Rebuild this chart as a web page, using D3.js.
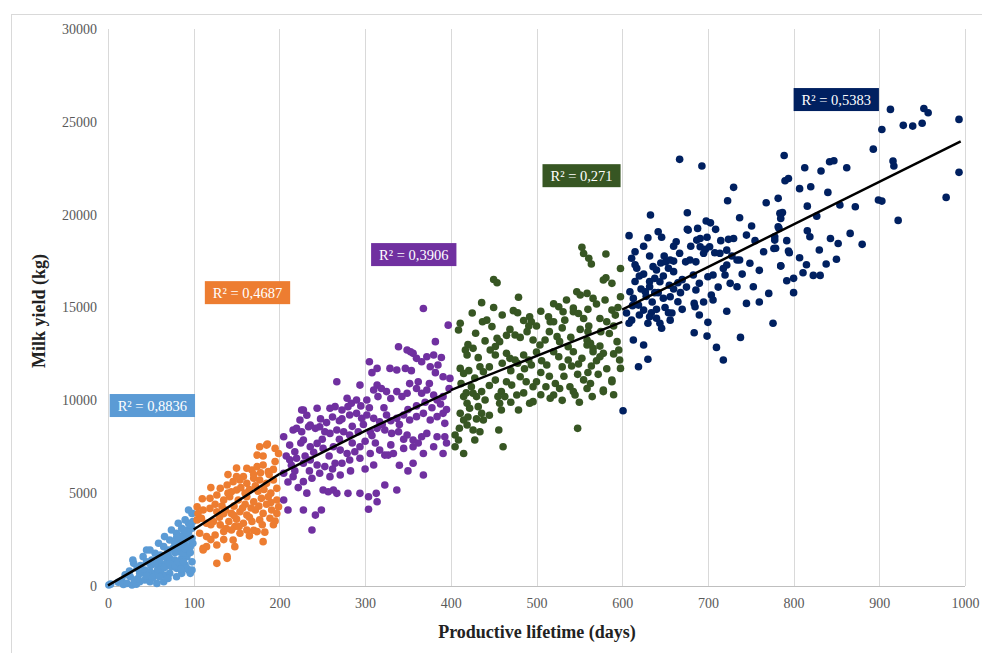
<!DOCTYPE html>
<html>
<head>
<meta charset="utf-8">
<script src="https://cdn.jsdelivr.net/npm/d3@7"></script>
<style>
  body { margin: 0; background: #fff; }
  svg { display: block; font-family: "Liberation Serif", "Times New Roman", serif; }
</style>
</head>
<body>
<svg id="chart"></svg>
<script>
// Productive lifetime (days) vs milk yield (kg), one series per lifetime class
const xTicks = [0, 100, 200, 300, 400, 500, 600, 700, 800, 900, 1000];
const yTicks = [0, 5000, 10000, 15000, 20000, 25000, 30000];

const bluePoints = [
  [1,50],[3,100],[12,200],[16,300],[18,80],[22,140],[28,50],[33,100],[26,500],[31,320],[37,230],[43,320],[49,230],[57,140],[65,230],
  [35,400],[40,700],[29,1400],[30,1220],[34,950],[37,680],[43,860],[49,770],[55,680],[61,770],[66,590],[72,680],
  [84,1040],[90,1130],[94,860],[86,680],[96,680],[92,950],[98,860],
  [41,1580],[45,1310],[51,1400],[57,1220],[63,1130],[68,1220],[74,1040],[80,950],
  [45,1940],[49,1940],[55,1760],[61,1670],[66,1580],[72,1490],[78,1400],[86,1490],[92,1580],
  [59,2300],[65,2120],[70,1940],[76,2030],[82,1850],[88,1760],[94,1940],
  [66,2660],[72,2480],[78,2300],[84,2390],[90,2210],[96,2120],[99,2300],
  [74,3020],[80,2840],[86,2660],[92,2750],[98,2570],
  [82,3380],[86,3110],[92,3020],[98,3110],
  [90,3560],[94,3380],[99,3470],[94,4090],[98,3910],
  [50,1100],[58,900],[66,1000],[72,1200],[78,1100],[82,1300],[88,1300],[70,1700],[78,1800],[84,2100],[90,2000],
  [96,2500],[88,2500],[80,2600],[94,2900],[96,3300],[88,3000],[60,1400],[55,1200],[25,800],[20,600],[45,550],
  [52,450],[60,500],[70,400],[80,500],[85,900],[98,1300],[96,1800],[38,1100]
];

const orangePoints = [
  [186,7650],[174,7050],[181,7000],[195,7410],[199,7140],[177,7500],[185,7590],[195,6700],
  [162,6340],[168,6250],[174,6430],[181,6520],[187,6160],[193,6280],[140,6000],[150,6350],[158,5900],
  [146,5620],[154,5710],[162,5530],[170,5800],[177,5710],[185,5530],[193,5710],[197,5260],
  [131,5260],[139,5440],[144,5080],[150,5170],[120,5300],[165,5200],[175,5100],[190,5000],
  [119,4720],[127,4900],[135,4630],[142,4810],[152,4630],[162,4810],[170,4540],[179,4720],[187,4810],[197,4630],[110,4700],
  [104,4270],[111,4090],[119,4180],[127,4000],[137,4090],[144,3910],[154,4000],[162,3820],[172,4090],[181,3910],[191,4090],[199,4270],
  [160,4400],[185,4400],[105,3900],[197,3900],
  [104,3560],[109,3650],[115,3380],[123,3470],[131,3290],[141,3470],[148,3200],[158,3380],[168,3470],[177,3560],[189,3650],
  [130,3700],[150,3600],[193,3300],
  [107,2840],[115,2660],[125,2750],[135,2930],[144,3020],[154,2840],[162,3020],[174,2930],[170,3000],[183,2900],
  [146,2480],[148,2120],[181,2390],[111,2030],[115,2120],[127,2210],[139,1580],[127,1220],[139,1490],[111,1940],
  [125,4400],[133,4300],[147,4300],[157,4200],[167,4200],[176,4300],[190,4500],[140,5000],[155,5300],[160,5000],
  [172,5400],[182,5200],[188,6000],[178,6100],[170,6000],[150,5900],[135,3900],[147,3800],[165,3700],[180,3300],
  [195,3500],[120,3300],[138,3100],[153,3200],[165,2700],[135,2500],[120,2500]
];

const purplePoints = [
  [368,14950],[397,14050],[382,13160],
  [339,12890],[349,12710],[356,12530],[360,12260],[366,12080],[372,12350],[380,12440],[389,12310],[385,11900],[376,11810],[382,11490],[391,11270],[353,12620],
  [305,12080],[314,11720],[308,11490],[329,11720],[337,11630],[347,11720],[354,11600],
  [267,11000],[294,10820],[314,10820],[310,10560],[319,10640],[325,10470],[315,10200],[337,10470],[343,10200],[349,10380],
  [360,10640],[366,10380],[372,10560],[380,10290],[384,10020],[391,10200],[398,10640],[399,11180],
  [279,10110],[284,9840],[290,10020],[302,10020],
  [259,9570],[265,9660],[273,9480],[280,9660],[282,9210],[228,9480],[244,9570],[226,9480],
  [290,9300],[296,9030],[302,9210],[310,9030],[317,8850],[325,9210],
  [337,9030],[345,9210],[352,8940],[360,9120],[368,9300],[376,8940],[384,9120],[391,9300],[393,8760],
  [216,8400],[224,8940],[236,8670],
  [220,8490],[226,8310],[234,8580],[242,8490],[247,8580],[253,8310],
  [259,8220],[267,8400],[275,8310],[282,8130],[292,8310],
  [306,8310],[314,8490],[323,8400],[331,8220],[339,8310],[349,8130],[356,7860],[366,8040],[372,8220],[384,8040],[393,8040],
  [205,8040],[212,7590],[218,7230],[208,7000],
  [228,7860],[236,7500],[244,7680],[251,7410],
  [263,7500],[271,7320],[279,7140],[288,7230],
  [294,7500],[306,7140],[317,7320],[327,7050],
  [345,7410],[356,7500],[368,7140],[391,7140],
  [214,6500],[220,6880],[228,6610],[236,6790],[244,6520],[253,6430],[265,6610],[273,6610],
  [282,6790],[294,6880],[310,6520],[323,7050],[333,7140],[356,6610],[368,5980],
  [205,6070],[216,5890],[228,5620],[238,5800],[247,6070],[259,5890],[271,5980],[210,5600],[222,5300],
  [232,5000],[251,5170],[257,5080],[263,5170],[267,4990],
  [280,4990],[294,4990],[304,4810],[313,4990],[323,5440],[337,5170],
  [205,4630],[210,4090],[228,4090],[242,3820],[249,4090],[304,4130],[238,3020],[314,4540],
  [232,9200],[248,9000],[255,8800],[262,9100],[270,8900],[285,8600],[298,8700],[308,8100],[320,8700],[330,8900],
  [340,8700],[350,9500],[360,9700],[370,9900],[378,9600],[388,9800],[395,9500],[375,10900],[362,11000],[352,10900],
  [330,10100],[322,9600],[305,9600],[295,9700],[273,9000],[250,7900],[240,7200],[258,7000],[270,7900],[285,7700],
  [300,7800],[312,7700],[330,7600],[345,7900],[362,7700],[380,7500],[395,7700],[230,7000],[225,7700],[212,6800],
  [218,6200],[235,6200],[262,6300],[283,6200],[300,6300],[340,6500],[350,6200]
];

const greenPoints = [
  [553,18240],[555,17910],[561,17650],[564,17340],[581,17880],[581,16600],
  [450,16510],[454,16330],[436,15260],[479,15550],
  [578,16480],[588,16300],[598,17100],[598,15580],
  [547,15850],[551,15670],[559,15760],[566,15490],[543,14970],
  [473,14830],[478,14720],[437,14230],[442,14320],[411,14150],[409,13790],
  [492,14500],[494,14230],[491,14000],
  [514,14500],[516,14230],[520,14230],
  [526,15040],[531,14770],[533,14320],
  [543,14770],[549,14680],[555,14410],
  [570,15190],[580,15400],[588,14860],[592,14590],[574,14410],[582,14230],[551,13820],[561,14000],
  [429,13610],[448,13970],[454,13340],[457,13160],[469,13820],[475,13520],[481,13390],[489,13700],[496,13250],
  [504,12980],[510,13250],[524,13430],[527,13160],[537,12890],[543,12620],[559,13250],[563,13070],[566,12800],
  [574,12920],[578,12530],[594,13160],[596,12710],[559,12980],[566,12620],[574,12350],
  [417,12710],[419,12440],[426,12800],[446,12710],[452,12440],[465,12530],[469,12260],[475,12170],[485,12440],
  [491,12170],[494,11900],[506,12130],[512,11900],[520,12620],[526,12350],[537,12170],[541,11850],[549,11960],
  [553,12260],[564,11850],[570,12130],[597,12170],[598,11720],
  [411,11720],[415,11450],[421,11600],[434,11810],[438,11540],[452,11090],[465,11000],[471,10820],[481,11270],
  [488,11000],[496,10730],[500,11000],[511,10730],[522,10910],[527,10640],[539,10730],[543,10470],[559,10640],
  [563,10910],[578,10470],[588,11090],[578,10560],[588,11000],
  [424,10730],[426,10380],[430,10200],[436,10470],[440,10020],[459,10470],[463,10200],[477,10290],[492,9840],
  [496,9930],[520,10290],[545,10290],[516,10110],
  [415,10200],[419,9840],[422,9570],[432,9660],[436,9300],[438,8940],[457,9840],[459,9480],[479,9480],
  [411,9300],[415,8940],[419,8670],[426,8400],[434,8310],[405,8130],[409,7860],[428,7860],[456,8400],[548,8490],
  [461,7500],[415,7140],[405,7500],
  [420,13000],[432,12300],[440,13200],[460,12000],[470,11600],[478,12000],[486,11700],[500,12600],[505,11500],
  [515,11300],[530,11800],[532,11300],[548,11400],[555,11100],[560,11500],[572,11400],[582,11700],[590,12500],
  [585,13600],[575,13700],[560,13700],[540,13400],[530,13900],[515,13700],[500,14000],[485,14300],[465,13500],
  [445,11800],[428,11200],[412,10900],[418,10400],[445,10800],[455,10200],[470,9900],[485,10400],[505,10300],
  [530,10000],[550,9900],[565,10200],[590,10300],[420,9100],[430,9000],[445,9200],[410,8500],[452,12900],
  [590,14000],[595,15000],[560,14900],[535,15400],[520,15200],[505,14800],[460,14600],[450,15000],[425,14700]
];

const navyPoints = [
  [913,25670],[952,25720],[957,25490],[993,25130],[903,24590],[928,24810],[939,24770],[950,24920],[893,23530],
  [916,22890],[917,22620],[993,22280],[978,20930],[899,20790],[903,20730],[922,19690],
  [789,23190],[813,22530],[832,22350],[842,22850],[847,22900],[862,22530],[790,21830],[794,21950],[807,21400],
  [782,20880],[816,20460],[785,20030],[787,20120],[827,19920],[854,20520],[872,20430],[782,19350],[778,18810],
  [816,19130],[819,18810],[843,18720],[852,18450],[866,18990],[792,18600],[779,18190],[795,17950],[807,17680],
  [785,17250],[838,17340],[811,16870],[823,16730],[831,16730],[792,16440],[800,16570],
  [667,22980],[693,22620],[730,21470],[723,20750],[768,20640],[633,19980],[676,20100],[698,19660],[703,19560],
  [709,19210],[737,19830],[751,19390],[784,20070],[785,19800],[783,19260],[777,18180],
  [608,18870],[630,18760],[642,19080],[646,18780],[663,18540],[676,19210],[688,19260],[691,18720],[699,18780],
  [724,18670],[730,18720],[778,18630],[794,18040],[677,19170],[687,18630],
  [611,17650],[632,17770],[649,17770],[651,17460],[656,17560],[667,17920],[674,17460],[679,17560],[686,17460],
  [691,18270],[697,18130],[708,17950],[722,18090],[728,17770],[734,17560],[749,17380],[785,17230],
  [737,17560],[702,18270],[714,17920],[722,17290],[695,17920],[660,17500],[645,17400],
  [617,17110],[636,17200],[640,17020],[654,17110],[660,16930],[683,16750],[700,16660],[706,16750],[720,16750],
  [726,16300],[734,16120],[753,16120],[771,15760],[625,16800],[648,16700],[670,16500],
  [638,16570],[632,16120],[627,15850],[644,16390],[609,15850],[613,15490],[665,16330],[656,15580],[665,15310],
  [686,15940],[684,15220],[685,15040],[704,15670],[706,15400],[745,15220],
  [615,16400],[622,16000],[628,15600],[635,15300],[642,15800],[660,16000],
  [619,15130],[625,14860],[634,14720],[640,14420],[644,14150],[646,13880],[654,14720],[656,14320],[611,14320],
  [608,14150],[630,14150],[613,13250],[625,12980],[630,12210],[619,11810],[620,14600],[650,15000],[605,14700],[612,15100],
  [684,13640],[699,13460],[710,12850],[718,12170],[738,13390],[776,14150],[601,9440],
  [615,17300],[620,16700],[632,16400],[638,15800],[648,15500],[655,16200],[668,15800],[675,16100],[690,16300],
  [695,15300],[712,16100],[718,17100],[740,16800],[760,17000],[765,18000],[755,18600],[745,18900],[715,18600],
  [680,18300],[660,18300],[625,18300],[615,18000],[640,14900],[632,14500],[658,14700],[670,14900],[690,14600],
  [700,14200],[722,14800],[760,15300],[800,15800],[815,17300],[830,18100],[850,17600],[880,18400],[820,21500],[840,21200]
];

// fitted trend lines at their ends
const blueTrend = [[0, 30], [100, 2700]];
const orangeTrend = [[100, 3040], [200, 6030]];
const purpleTrend = [[200, 6030], [300, 8350], [400, 10500]];
const greenTrend = [[400, 10550], [600, 14230]];
const navyTrend = [[600, 14880], [995, 23950]];

const seriesNames = ["0-100", "100-200", "200-400", "400-600", "600-1000"];
const seriesColors = ["#5b9bd5", "#ed7d31", "#7030a0", "#375623", "#002060"];
const rSquared = ["R² = 0,8836", "R² = 0,4687", "R² = 0,3906", "R² = 0,271", "R² = 0,5383"];
// label anchor: left edge (days), vertical centre (kg)
const labelDays = [2, 113, 307, 507, 800];
const labelYield = [9720, 15800, 17850, 22100, 26200];

const series = seriesNames.map((name, i) => ({
  name,
  color: seriesColors[i],
  points: [bluePoints, orangePoints, purplePoints, greenPoints, navyPoints][i],
  trend: [blueTrend, orangeTrend, purpleTrend, greenTrend, navyTrend][i],
  label: rSquared[i],
  lx: labelDays[i],
  ly: labelYield[i]
}));

const width = 982, height = 653;
const svg = d3.select("#chart").attr("width", width).attr("height", height);

// outer chart frame (partly cut by the picture)
svg.append("rect")
  .attr("x", 11.5).attr("y", 14.5)
  .attr("width", 1000).attr("height", 700)
  .attr("fill", "none").attr("stroke", "#d9d9d9");

const x = d3.scaleLinear().domain([0, 1000]).range([108, 965]);
const y = d3.scaleLinear().domain([0, 30000]).range([586, 29]);

// vertical gridlines
svg.append("g")
  .selectAll("line")
  .data(xTicks)
  .enter()
  .append("line")
  .attr("x1", d => Math.round(x(d)) + 0.5)
  .attr("x2", d => Math.round(x(d)) + 0.5)
  .attr("y1", y(30000))
  .attr("y2", y(0))
  .attr("stroke", "#d9d9d9")
  .attr("stroke-width", 1);

// x axis line
svg.append("line")
  .attr("x1", x(0)).attr("x2", x(1000))
  .attr("y1", Math.round(y(0)) + 0.5).attr("y2", Math.round(y(0)) + 0.5)
  .attr("stroke", "#bfbfbf");

const xAxis = d3.axisBottom(x).tickValues(xTicks).tickSize(0).tickPadding(12).tickFormat(d3.format("d"));
const yAxis = d3.axisLeft(y).tickValues(yTicks).tickSize(0).tickPadding(11).tickFormat(d3.format("d"));

svg.append("g")
  .attr("transform", `translate(0,${y(0)})`)
  .call(xAxis)
  .call(g => g.select(".domain").remove())
  .call(g => g.selectAll("text")
    .attr("font-family", "Liberation Serif, serif")
    .attr("font-size", 14)
    .attr("fill", "#595959"));

svg.append("g")
  .attr("transform", `translate(${x(0)},0)`)
  .call(yAxis)
  .call(g => g.select(".domain").remove())
  .call(g => g.selectAll("text")
    .attr("font-family", "Liberation Serif, serif")
    .attr("font-size", 14)
    .attr("fill", "#595959"));

// points
series.forEach(s => {
  svg.append("g")
    .selectAll("circle")
    .data(s.points)
    .enter()
    .append("circle")
    .attr("cx", d => x(d[0]))
    .attr("cy", d => y(d[1]))
    .attr("r", 3.8)
    .attr("fill", s.color);
});

// trend lines
const line = d3.line().x(d => x(d[0])).y(d => y(d[1]));
series.forEach(s => {
  svg.append("path")
    .datum(s.trend)
    .attr("d", line)
    .attr("fill", "none")
    .attr("stroke", "#000")
    .attr("stroke-width", 2.5);
});

// R² labels
series.forEach(s => {
  const g = svg.append("g");
  const t = g.append("text")
    .attr("x", x(s.lx) + 8)
    .attr("y", y(s.ly))
    .attr("dy", "0.35em")
    .attr("font-size", 14.5)
    .attr("fill", "#fff")
    .text(s.label);
  const bb = t.node().getBBox();
  g.insert("rect", "text")
    .attr("x", x(s.lx))
    .attr("y", y(s.ly) - 11.5)
    .attr("width", bb.width + 16)
    .attr("height", 23)
    .attr("fill", s.color);
});

// axis titles
svg.append("text")
  .attr("x", 537).attr("y", 638)
  .attr("text-anchor", "middle")
  .attr("font-size", 18)
  .attr("font-weight", "bold")
  .attr("fill", "#222")
  .text("Productive lifetime (days)");

svg.append("text")
  .attr("transform", "translate(45,311) rotate(-90)")
  .attr("text-anchor", "middle")
  .attr("font-size", 18)
  .attr("font-weight", "bold")
  .attr("fill", "#222")
  .text("Milk yield (kg)");
</script>
</body>
</html>
